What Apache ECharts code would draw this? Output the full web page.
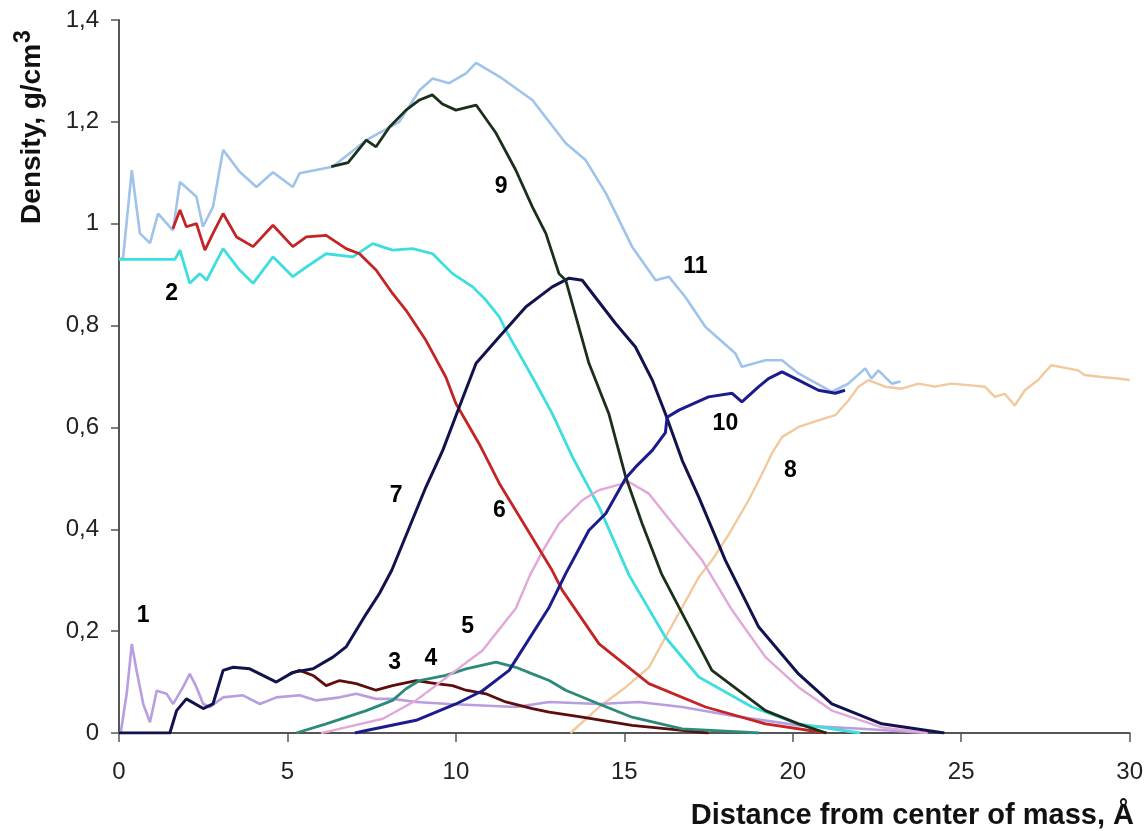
<!DOCTYPE html>
<html>
<head>
<meta charset="utf-8">
<script src="https://cdn.jsdelivr.net/npm/echarts@6/dist/echarts.min.js"></script>
<style>
  html, body { margin: 0; padding: 0; background: #fff; }
  #chart { width: 1146px; height: 831px; }
</style>
</head>
<body>
<div id="chart"></div>
<script>
// density profiles, [distance, density]
var curve1 = [[0.05,0],[0.23,0.078],[0.38,0.175],[0.52,0.123],[0.72,0.057],[0.92,0.021],[1.12,0.083],[1.41,0.077],[1.61,0.057],[1.9,0.09],[2.1,0.116],[2.3,0.09],[2.5,0.057],[2.7,0.051],[3.09,0.07],[3.68,0.074],[4.18,0.057],[4.67,0.07],[5.36,0.074],[5.86,0.064],[6.55,0.07],[7.04,0.077],[7.63,0.067],[8.12,0.067],[8.82,0.061],[9.8,0.057],[10.79,0.054],[11.78,0.051],[12.77,0.061],[14.25,0.057],[15.43,0.061],[16.72,0.051],[18.2,0.034],[20.17,0.015],[22.15,0.008],[24,0]];
var curve2 = [[0,0.93],[1.66,0.93],[1.81,0.948],[2.1,0.883],[2.4,0.902],[2.6,0.889],[3.09,0.951],[3.58,0.909],[3.98,0.883],[4.57,0.935],[5.16,0.896],[5.56,0.915],[6.15,0.941],[6.94,0.935],[7.53,0.961],[8.12,0.948],[8.72,0.951],[9.31,0.941],[9.9,0.902],[10.5,0.876],[10.89,0.85],[11.29,0.817],[11.48,0.791],[12.27,0.699],[12.86,0.627],[13.46,0.542],[14.25,0.444],[15.14,0.31],[16.22,0.188],[17.21,0.11],[18.79,0.051],[20.17,0.018],[22,0]];
var curve3 = [[5.07,0.116],[5.36,0.123],[5.76,0.113],[6.15,0.093],[6.55,0.103],[7.04,0.097],[7.63,0.084],[8.12,0.093],[8.82,0.103],[9.41,0.097],[9.9,0.093],[10.3,0.084],[10.89,0.077],[11.48,0.061],[12.27,0.048],[12.77,0.041],[13.75,0.031],[15.23,0.015],[16.72,0.005],[17.5,0]];
var curve4 = [[5.26,0],[6.15,0.018],[7.34,0.044],[8.12,0.064],[8.52,0.087],[8.92,0.103],[9.7,0.113],[10.3,0.126],[11.19,0.139],[11.78,0.129],[12.27,0.116],[12.77,0.103],[13.26,0.084],[14.25,0.057],[15.23,0.031],[16.72,0.008],[19,0]];
var curve5 = [[6.0,0],[6.35,0.005],[7.83,0.028],[8.82,0.064],[10.0,0.123],[10.79,0.162],[11.78,0.245],[12.2,0.31],[12.6,0.36],[13.06,0.411],[13.75,0.457],[14.25,0.477],[15.14,0.493],[15.73,0.47],[16.52,0.404],[17.31,0.339],[18.2,0.241],[19.19,0.149],[20.17,0.09],[21.16,0.044],[22.64,0.011],[24,0]];
var curve6 = [[1.6,0.99],[1.81,1.027],[2.0,0.994],[2.3,1.0],[2.55,0.948],[2.79,0.981],[3.09,1.02],[3.49,0.974],[3.98,0.955],[4.57,0.997],[5.16,0.955],[5.56,0.974],[6.15,0.977],[6.74,0.951],[7.14,0.941],[7.63,0.909],[8.12,0.863],[8.52,0.83],[9.11,0.771],[9.7,0.699],[10.0,0.647],[10.69,0.568],[11.29,0.49],[12.08,0.404],[12.86,0.319],[13.16,0.28],[14.25,0.175],[15.73,0.097],[17.41,0.051],[19.19,0.018],[21,0]];
var curve7 = [[0,0],[1.51,0],[1.71,0.044],[2.0,0.067],[2.5,0.048],[2.79,0.057],[3.09,0.123],[3.39,0.129],[3.88,0.126],[4.27,0.113],[4.67,0.1],[5.16,0.119],[5.76,0.126],[6.35,0.149],[6.74,0.169],[7.34,0.234],[7.73,0.274],[8.1,0.32],[8.62,0.404],[9.11,0.483],[9.61,0.555],[10.1,0.64],[10.6,0.726],[11.29,0.778],[12.08,0.837],[12.86,0.876],[13.36,0.893],[13.75,0.889],[14.74,0.804],[15.33,0.758],[15.83,0.693],[16.22,0.627],[16.72,0.535],[17.21,0.463],[18.0,0.339],[18.99,0.208],[20.17,0.116],[21.16,0.057],[22.64,0.018],[24.5,0]];
var curve8 = [[13.4,0],[14.25,0.051],[15.04,0.09],[15.73,0.129],[16.22,0.188],[16.72,0.247],[17.21,0.306],[17.6,0.339],[18.1,0.39],[18.69,0.457],[19.09,0.509],[19.38,0.549],[19.68,0.581],[20.17,0.601],[20.76,0.614],[21.26,0.624],[21.65,0.653],[21.95,0.68],[22.25,0.693],[22.74,0.68],[23.23,0.676],[23.73,0.686],[24.22,0.68],[24.71,0.686],[25.21,0.683],[25.7,0.68],[26.0,0.66],[26.29,0.666],[26.59,0.643],[26.89,0.673],[27.28,0.693],[27.67,0.722],[28.17,0.716],[28.47,0.712],[28.66,0.703],[29.16,0.699],[29.65,0.696],[30,0.693]];
var curve9 = [[6.3,1.112],[6.8,1.12],[7.34,1.164],[7.63,1.151],[8.03,1.19],[8.52,1.223],[8.92,1.243],[9.3,1.253],[9.6,1.235],[10.0,1.223],[10.3,1.228],[10.6,1.233],[11.19,1.178],[11.78,1.105],[12.27,1.033],[12.67,0.981],[13.06,0.902],[13.26,0.889],[13.95,0.726],[14.54,0.627],[15.04,0.503],[15.53,0.411],[16.1,0.313],[16.62,0.247],[17.6,0.123],[19.19,0.044],[20.17,0.018],[21,0]];
var curve10 = [[7.0,0],[7.34,0.005],[8.82,0.025],[10.0,0.057],[10.79,0.083],[11.58,0.123],[12.77,0.247],[13.26,0.313],[13.95,0.398],[14.45,0.431],[15.04,0.5],[15.33,0.522],[15.83,0.555],[16.22,0.59],[16.27,0.62],[16.62,0.634],[17.5,0.66],[18.2,0.667],[18.49,0.65],[18.99,0.68],[19.28,0.696],[19.68,0.709],[20.17,0.693],[20.76,0.673],[21.26,0.667],[21.55,0.673]];
var curve11 = [[0,0.93],[0.12,0.932],[0.38,1.105],[0.62,0.981],[0.92,0.962],[1.16,1.02],[1.6,0.987],[1.81,1.082],[2.3,1.053],[2.49,0.994],[2.79,1.033],[3.09,1.145],[3.58,1.102],[4.08,1.072],[4.57,1.101],[5.16,1.072],[5.36,1.099],[6.34,1.112],[7.34,1.164],[8.32,1.2],[8.92,1.262],[9.31,1.285],[9.8,1.276],[10.3,1.295],[10.6,1.316],[11.29,1.289],[12.27,1.243],[13.26,1.158],[13.85,1.125],[14.45,1.06],[15.23,0.955],[15.93,0.889],[16.32,0.896],[16.81,0.856],[17.41,0.797],[18.3,0.745],[18.49,0.719],[19.19,0.732],[19.68,0.732],[20.17,0.706],[21.16,0.67],[21.65,0.686],[22.15,0.716],[22.34,0.696],[22.54,0.712],[22.94,0.686],[23.2,0.69]];

// curve numbers written on the plot, [x, y, text]
var curveLabels = [[0.72,0.231,'1'],[1.56,0.863,'2'],[8.18,0.139,'3'],[9.26,0.146,'4'],[10.35,0.208,'5'],[11.29,0.437,'6'],[8.23,0.467,'7'],[19.93,0.516,'8'],[11.34,1.073,'9'],[18.0,0.608,'10'],[17.11,0.915,'11']];

var xTicks = [0, 5, 10, 15, 20, 25, 30];

var myChart = echarts.init(document.getElementById('chart'));

function line(data, color, width) {
    return {
        type: 'line',
        data: data,
        symbol: 'none',
        smooth: false,
        animation: false,
        lineStyle: { color: color, width: width }
    };
}

var option = {
    backgroundColor: '#fff',
    animation: false,
    grid: { left: 119, right: 14, top: 20, bottom: 98 },
    xAxis: {
        type: 'value',
        min: xTicks[0],
        max: xTicks[xTicks.length - 1],
        interval: 5,
        splitLine: { show: false },
        axisLine: { lineStyle: { color: '#555', width: 2 } },
        axisTick: { inside: false, length: 9, lineStyle: { color: '#555', width: 1.5 } },
        axisLabel: { color: '#222', fontSize: 24, fontFamily: 'Liberation Sans', margin: 27 }
    },
    yAxis: {
        type: 'value',
        min: 0,
        max: 1.4,
        interval: 0.2,
        splitLine: { show: false },
        axisLine: { show: true, lineStyle: { color: '#555', width: 2 } },
        axisTick: { show: true, inside: false, length: 8, lineStyle: { color: '#555', width: 1.5 } },
        axisLabel: {
            color: '#222', fontSize: 24, fontFamily: 'Liberation Sans', margin: 20,
            formatter: function (v) { return String(+v.toFixed(1)).replace('.', ','); }
        }
    },
    graphic: [
        {
            type: 'text',
            x: 32, y: 127,
            rotation: Math.PI / 2,
            style: {
                text: '{a|Density, g/cm}{b|3}',
                rich: {
                    a: { font: 'bold 28px "Liberation Sans"', fill: '#111' },
                    b: { font: 'bold 23px "Liberation Sans"', fill: '#111', padding: [0, 0, 16, 1] }
                },
                align: 'center',
                verticalAlign: 'middle'
            }
        },
        {
            type: 'text',
            x: 1134, y: 816,
            style: {
                text: 'Distance from center of mass, Å',
                font: 'bold 29px "Liberation Sans"',
                fill: '#111',
                align: 'right',
                verticalAlign: 'middle'
            }
        }
    ],
    series: [
        line(curve11, '#9fc3ea', 2.6),
        line(curve8, '#f2c99c', 2.4),
        line(curve1, '#b79ee0', 2.6),
        line(curve2, '#3fdede', 2.8),
        line(curve3, '#5e0c0c', 2.8),
        line(curve4, '#2b8a78', 2.8),
        line(curve5, '#e2a7d6', 2.4),
        line(curve6, '#c42424', 2.8),
        line(curve7, '#12124e', 3),
        line(curve9, '#1b301b', 2.8),
        line(curve10, '#1b1b8e', 3),
        {
            type: 'scatter',
            symbolSize: 0,
            silent: true,
            itemStyle: { opacity: 1 },
            data: curveLabels,
            label: {
                show: true,
                position: 'inside',
                formatter: function (p) { return p.data[2]; },
                color: '#000',
                opacity: 1,
                fontSize: 23,
                fontWeight: 'bold',
                fontFamily: 'Liberation Sans'
            }
        }
    ]
};

myChart.setOption(option);
</script>
</body>
</html>
